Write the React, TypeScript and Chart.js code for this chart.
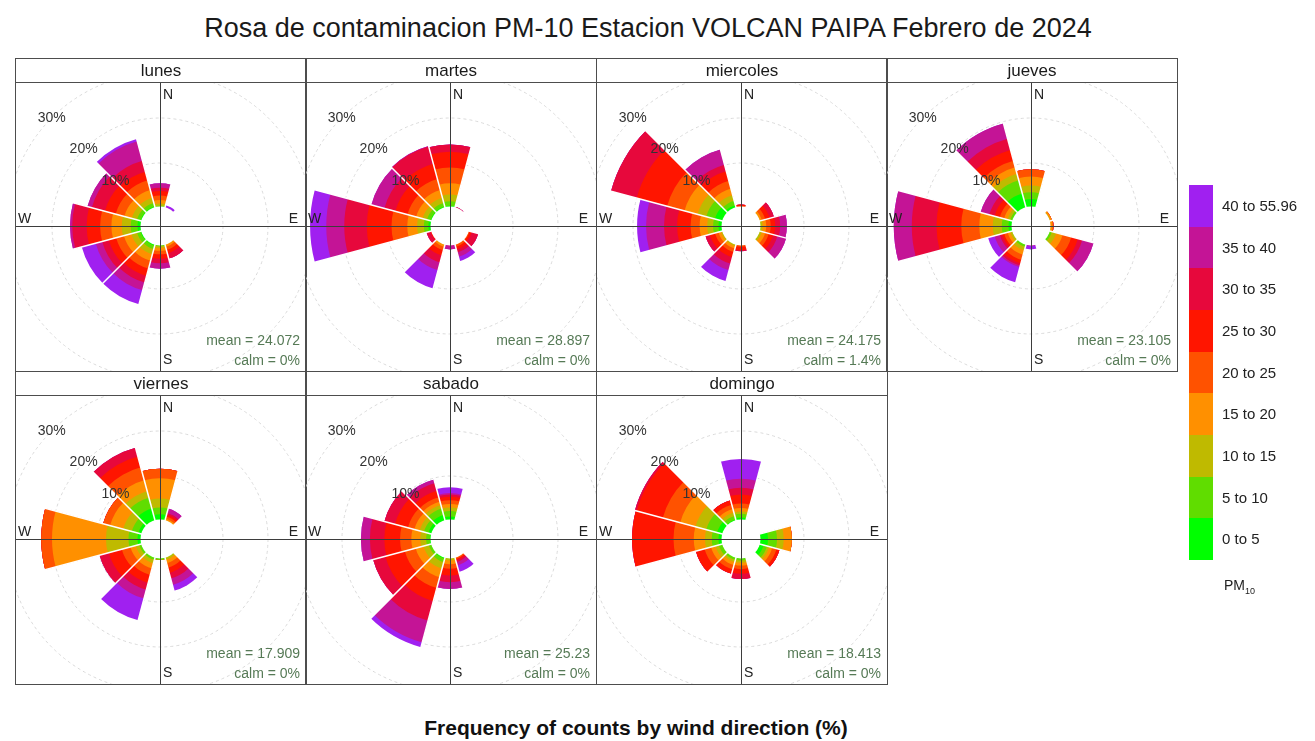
import React, { useEffect, useRef } from "react";
import { Chart, registerables } from "chart.js";
Chart.register(...registerables);

// ---------- data ----------
const titleText = "Rosa de contaminacion PM-10 Estacion VOLCAN PAIPA Febrero de 2024";
const xAxisTitle = "Frequency of counts by wind direction (%)";
const directionLabels = ["0", "30", "60", "90", "120", "150", "180", "210", "240", "270", "300", "330"];
const binLabels = ["0 to 5", "5 to 10", "10 to 15", "15 to 20", "20 to 25", "25 to 30", "30 to 35", "35 to 40", "40 to 55.96"];
const binColors = ["#00FF00", "#60DD00", "#BFBA00", "#FF9000", "#FF5200", "#FF1500", "#E7083C", "#C41496", "#A020F0"];
const ringValues = [10, 20, 30];
const dayNames = ["lunes", "martes", "miercoles", "jueves", "viernes", "sabado", "domingo"];
const meanValues = ["24.072", "28.897", "24.175", "23.105", "17.909", "25.23", "18.413"];
const calmValues = ["0%", "0%", "1.4%", "0%", "0%", "0%", "0%"];

// frequency (%) per direction (rows: 0,30,...,330 deg) and PM10 bin (columns)
const lunes = [
  [0.2, 0.3, 0.5, 0.8, 1.0, 1.0, 0.7, 1.0, 0],
  [0, 0, 0, 0, 0, 0, 0, 0.3, 0.5],
  [0, 0, 0, 0, 0, 0, 0, 0, 0],
  [0, 0, 0, 0, 0, 0, 0, 0, 0],
  [0, 0, 0, 0, 0, 0, 0, 0, 0],
  [0, 0, 0.3, 0.5, 0.7, 0.8, 1.2, 0, 0],
  [0.2, 0.3, 0.4, 0.6, 0.8, 1.0, 1.0, 1.2, 0],
  [0.5, 0.8, 1.2, 1.5, 1.8, 1.7, 1.5, 1.8, 3.2],
  [0.5, 0.8, 1.3, 1.7, 1.8, 1.7, 1.5, 1.5, 3.2],
  [1.0, 1.5, 2.0, 2.3, 2.5, 3.0, 3.2, 0.5, 0],
  [0.5, 0.8, 1.2, 1.7, 2.0, 2.5, 3.0, 1.0, 0],
  [0.5, 0.8, 1.2, 1.8, 2.2, 2.0, 2.5, 4.5, 0.5],
];
const martes = [
  [0.5, 1.0, 1.5, 2.5, 3.5, 3.5, 1.6, 0, 0],
  [0, 0, 0, 0, 0, 0, 0.4, 0, 0],
  [0, 0, 0, 0, 0, 0, 0, 0, 0],
  [0, 0, 0, 0, 0, 0, 0, 0, 0],
  [0, 0, 0, 0.2, 0.3, 0.5, 1.5, 0, 0],
  [0, 0, 0, 0.3, 0.5, 0.6, 0.7, 1.0, 1.0],
  [0, 0, 0, 0, 0, 0, 0.3, 0.9, 0],
  [0, 0, 0.3, 0.5, 0.8, 1.2, 1.6, 1.8, 4.2],
  [0, 0, 0, 0, 0, 0.5, 0.9, 0, 0],
  [0.8, 1.0, 1.5, 2.2, 3.5, 5.5, 5.0, 4.0, 3.6],
  [0.5, 0.8, 1.0, 1.5, 2.0, 2.8, 2.5, 3.0, 0],
  [0.5, 0.8, 1.2, 1.8, 2.5, 3.5, 4.0, 0.1, 0],
];
const miercoles = [
  [0, 0, 0, 0.2, 0.3, 0.3, 0, 0, 0],
  [0, 0, 0, 0, 0, 0, 0, 0, 0],
  [0, 0, 0.3, 0.5, 0.8, 1.0, 1.0, 0, 0],
  [0, 0.3, 0.5, 0.8, 1.0, 1.0, 1.1, 1.5, 0],
  [0, 0.3, 0.5, 0.8, 0.8, 1.0, 1.0, 2.0, 0],
  [0, 0, 0, 0, 0, 0, 0, 0, 0],
  [0, 0, 0, 0.2, 0.4, 0.8, 0.2, 0, 0],
  [0, 0.2, 0.4, 0.6, 0.8, 1.2, 1.5, 1.5, 2.5],
  [0, 0.2, 0.4, 0.6, 0.8, 1.2, 1.0, 0, 0],
  [1.0, 1.2, 1.3, 1.7, 2.0, 3.0, 2.9, 4.0, 2.0],
  [2.0, 2.0, 2.0, 3.0, 4.0, 7.0, 5.9, 0, 0],
  [0.8, 1.0, 1.3, 1.5, 1.8, 2.2, 1.5, 3.5, 0],
];
const jueves = [
  [2.0, 1.5, 1.5, 2.0, 1.6, 0, 0, 0, 0],
  [0, 0, 0, 0, 0, 0, 0, 0, 0],
  [0, 0, 0.4, 0.4, 0, 0, 0, 0, 0],
  [0, 0, 0.3, 0.5, 0.2, 0, 0, 0, 0],
  [0.3, 0.5, 1.0, 1.5, 2.0, 1.5, 1.0, 2.6, 0],
  [0, 0, 0, 0, 0, 0, 0, 0, 0],
  [0, 0, 0, 0, 0, 0, 0, 0.4, 0.8],
  [0.3, 0.5, 0.8, 1.0, 1.2, 0.8, 0.5, 0.4, 3.5],
  [0, 0.3, 0.5, 0.6, 0.8, 0.5, 0.5, 1.2, 1.5],
  [1.0, 1.5, 2.0, 3.0, 4.0, 5.5, 5.5, 4.0, 0],
  [0.3, 0.5, 0.6, 0.8, 1.0, 1.2, 1.2, 2.0, 0],
  [3.5, 3.0, 1.5, 1.5, 1.5, 2.5, 2.6, 3.5, 0],
];
const viernes = [
  [1.5, 1.5, 2.0, 4.5, 2.1, 0, 0, 0, 0],
  [0, 0, 0.3, 0.4, 0.5, 0.4, 0.4, 1.0, 0],
  [0, 0, 0, 0, 0, 0, 0, 0, 0],
  [0, 0, 0, 0, 0, 0, 0, 0, 0],
  [0, 0, 0, 0, 0, 0, 0, 0, 0],
  [0, 0.3, 0.5, 0.8, 1.0, 1.2, 1.3, 1.5, 1.3],
  [0.3, 0.3, 0, 0, 0, 0, 0, 0, 0],
  [0.3, 0.5, 0.8, 1.2, 1.5, 1.8, 1.6, 2.0, 5.0],
  [0.3, 0.5, 0.8, 1.2, 2.0, 3.0, 2.1, 0, 0],
  [1.0, 2.0, 5.0, 12.0, 2.4, 0, 0, 0, 0],
  [1.0, 1.5, 2.0, 3.0, 1.6, 0, 0, 0, 0],
  [3.0, 2.5, 1.5, 2.5, 3.0, 2.5, 2.0, 0, 0],
];
const sabado = [
  [1.0, 1.2, 0.8, 0.8, 0.8, 0.8, 0.5, 0.3, 1.3],
  [0, 0, 0, 0, 0, 0, 0, 0, 0],
  [0, 0, 0, 0, 0, 0, 0, 0, 0],
  [0, 0, 0, 0, 0, 0, 0, 0, 0],
  [0, 0, 0, 0, 0, 0, 0, 0, 0],
  [0, 0, 0, 0.3, 0.3, 0.3, 0.4, 0.8, 1.5],
  [0, 0.3, 0.5, 0.8, 1.0, 1.5, 1.5, 1.5, 0],
  [0.5, 0.8, 1.5, 2.0, 2.5, 3.0, 4.5, 5.0, 1.1],
  [0.3, 0.6, 1.2, 1.8, 2.5, 4.5, 2.8, 0, 0],
  [0.5, 0.8, 1.3, 2.0, 2.5, 3.5, 3.2, 2.0, 0],
  [1.0, 1.0, 1.0, 1.2, 1.5, 3.0, 2.4, 0, 0],
  [1.5, 1.5, 0.8, 0.8, 1.0, 1.5, 1.8, 0.8, 0],
];
const domingo = [
  [0.8, 0.8, 0.5, 0.8, 1.0, 2.0, 1.5, 2.0, 4.4],
  [0, 0, 0, 0, 0, 0, 0, 0, 0],
  [0, 0, 0, 0, 0, 0, 0, 0, 0],
  [2.0, 2.0, 1.5, 1.8, 0, 0, 0, 0, 0],
  [1.2, 0.8, 0.5, 0.7, 1.0, 0.7, 0, 0, 0],
  [0, 0, 0, 0, 0, 0, 0, 0, 0],
  [0.3, 0.5, 0.5, 0.6, 0.8, 1.0, 1.2, 0, 0],
  [0.3, 0.5, 0.5, 0.7, 1.0, 1.0, 0, 0, 0],
  [0.3, 0.8, 0.8, 1.0, 1.5, 2.0, 0, 0, 0],
  [1.0, 1.5, 1.5, 2.5, 4.5, 9.2, 0, 0, 0],
  [1.5, 2.5, 2.5, 3.5, 4.0, 6.0, 0.4, 0, 0],
  [0.5, 0.8, 0.8, 0.8, 1.0, 1.0, 0, 0, 0],
];
const dayData = [lunes, martes, miercoles, jueves, viernes, sabado, domingo];

// ---------- layout ----------
const FONT = "'Liberation Sans', Arial, sans-serif";
const colX = [15, 305, 596, 886];
const rowTop = [58, 371];
const COL_W = 291;
const STRIP_H = 24;
const PANEL_H = 289;
const HOLE = 4; // centre offset in % units

function Rose({ rows, mean, calm }: { rows: number[][]; mean: string; calm: string }) {
  const ref = useRef<HTMLCanvasElement | null>(null);
  useEffect(() => {
    if (!ref.current) return;
    const totals = rows.map((r) => r.reduce((a, b) => a + b, 0));
    const datasets = binColors.map((color, k) => ({
      label: binLabels[k],
      data: rows.map((r) => r.slice(0, k + 1).reduce((a, b) => a + b, 0)),
      backgroundColor: color,
      borderWidth: 0,
    }));
    const overlay = {
      id: "roseOverlay",
      afterDatasetsDraw(chart: any) {
        const ctx = chart.ctx as CanvasRenderingContext2D;
        const s = chart.scales.r;
        const cx = s.xCenter;
        const cy = s.yCenter;
        const area = chart.chartArea;
        ctx.save();
        // separators between wedges
        ctx.strokeStyle = "#ffffff";
        ctx.lineWidth = 1.5;
        for (let i = 0; i < totals.length; i++) {
          const m = Math.max(totals[i], totals[(i + 1) % totals.length]);
          if (m <= 0) continue;
          const ang = ((i * 30 + 15 - 90) * Math.PI) / 180;
          const len = s.getDistanceFromCenterForValue(m) + 2;
          ctx.beginPath();
          ctx.moveTo(cx, cy);
          ctx.lineTo(cx + Math.cos(ang) * len, cy + Math.sin(ang) * len);
          ctx.stroke();
        }
        // central hole
        ctx.fillStyle = "#ffffff";
        ctx.beginPath();
        ctx.arc(cx, cy, s.getDistanceFromCenterForValue(0) + 1.5, 0, Math.PI * 2);
        ctx.fill();
        // axes
        ctx.strokeStyle = "#3d3d3d";
        ctx.lineWidth = 1;
        ctx.beginPath();
        ctx.moveTo(cx + 0.5, area.top);
        ctx.lineTo(cx + 0.5, area.bottom);
        ctx.moveTo(area.left, cy + 0.5);
        ctx.lineTo(area.right, cy + 0.5);
        ctx.stroke();
        // ring labels
        ctx.fillStyle = "#333333";
        ctx.font = `14px ${FONT}`;
        ctx.textAlign = "center";
        ctx.textBaseline = "middle";
        ringValues.forEach((v) => {
          const r = s.getDistanceFromCenterForValue(v);
          ctx.fillText(`${v}%`, cx - r * Math.SQRT1_2, cy - r * Math.SQRT1_2);
        });
        // compass letters
        ctx.fillStyle = "#222222";
        ctx.textAlign = "left";
        ctx.fillText("N", cx + 3, area.top + 13);
        ctx.fillText("S", cx + 3, area.bottom - 11);
        ctx.fillText("W", area.left + 3, cy - 7);
        ctx.textAlign = "right";
        ctx.fillText("E", area.right - 8, cy - 7);
        // stats
        ctx.fillStyle = "#567a56";
        ctx.fillText(`mean = ${mean}`, area.right - 6, area.bottom - 30);
        ctx.fillText(`calm = ${calm}`, area.right - 6, area.bottom - 10);
        ctx.restore();
      },
    };
    const chart = new Chart(ref.current, {
      type: "polarArea",
      data: { labels: directionLabels, datasets },
      options: {
        responsive: false,
        maintainAspectRatio: false,
        animation: false,
        devicePixelRatio: 1,
        layout: { padding: 0 },
        plugins: { legend: { display: false }, tooltip: { enabled: false } },
        scales: {
          r: {
            min: -HOLE,
            max: 28,
            startAngle: -15,
            angleLines: { display: false },
            pointLabels: { display: false },
            ticks: { display: false },
            grid: { circular: true, color: "#dadada", lineWidth: 1 },
            border: { dash: [3, 3] },
            afterBuildTicks: (scale: any) => {
              scale.ticks = ringValues.map((v) => ({ value: v }));
            },
          },
        },
      } as any,
      plugins: [overlay],
    });
    return () => chart.destroy();
  }, [rows, mean, calm]);
  return <canvas ref={ref} width={COL_W} height={PANEL_H} style={{ display: "block" }} />;
}

export default function App() {
  const binH = 375 / binColors.length;
  return (
    <div style={{ position: "absolute", left: 0, top: 0, width: 1315, height: 741, background: "#fff", fontFamily: FONT, overflow: "hidden" }}>
      <div style={{ position: "absolute", left: 0, top: 12, width: 1296, textAlign: "center", fontSize: 27, lineHeight: "32px", color: "#1a1a1a" }}>
        {titleText}
      </div>
      {dayNames.map((name, i) => {
        const c = i % 4;
        const r = Math.floor(i / 4);
        const x = colX[c];
        const y = rowTop[r];
        return (
          <React.Fragment key={name}>
            <div style={{ position: "absolute", left: x, top: y + STRIP_H, width: COL_W, height: PANEL_H }}>
              <Rose rows={dayData[i]} mean={meanValues[i]} calm={calmValues[i]} />
            </div>
            <div style={{ position: "absolute", left: x, top: y, width: COL_W + 1, height: STRIP_H + PANEL_H + 1, border: "1px solid #4d4d4d", boxSizing: "border-box", pointerEvents: "none" }}>
              <div style={{ height: STRIP_H - 1, borderBottom: "1px solid #4d4d4d", textAlign: "center", fontSize: 17, lineHeight: `${STRIP_H - 1}px`, color: "#1a1a1a" }}>
                {name}
              </div>
            </div>
          </React.Fragment>
        );
      })}
      {binColors.map((col, k) => {
        const idx = binColors.length - 1 - k;
        return (
          <React.Fragment key={k}>
            <div style={{ position: "absolute", left: 1189, top: 185 + k * binH, width: 24, height: binH + 0.5, background: binColors[idx] }} />
            <div style={{ position: "absolute", left: 1222, top: 185 + k * binH, height: binH, lineHeight: `${binH}px`, fontSize: 15, color: "#222", whiteSpace: "nowrap" }}>
              {binLabels[idx]}
            </div>
          </React.Fragment>
        );
      })}
      <div style={{ position: "absolute", left: 1224, top: 577, fontSize: 14, color: "#222" }}>
        PM<sub style={{ fontSize: 9 }}>10</sub>
      </div>
      <div style={{ position: "absolute", left: 0, top: 716, width: 1272, textAlign: "center", fontSize: 21, fontWeight: "bold", lineHeight: "24px", color: "#111" }}>
        {xAxisTitle}
      </div>
    </div>
  );
}
